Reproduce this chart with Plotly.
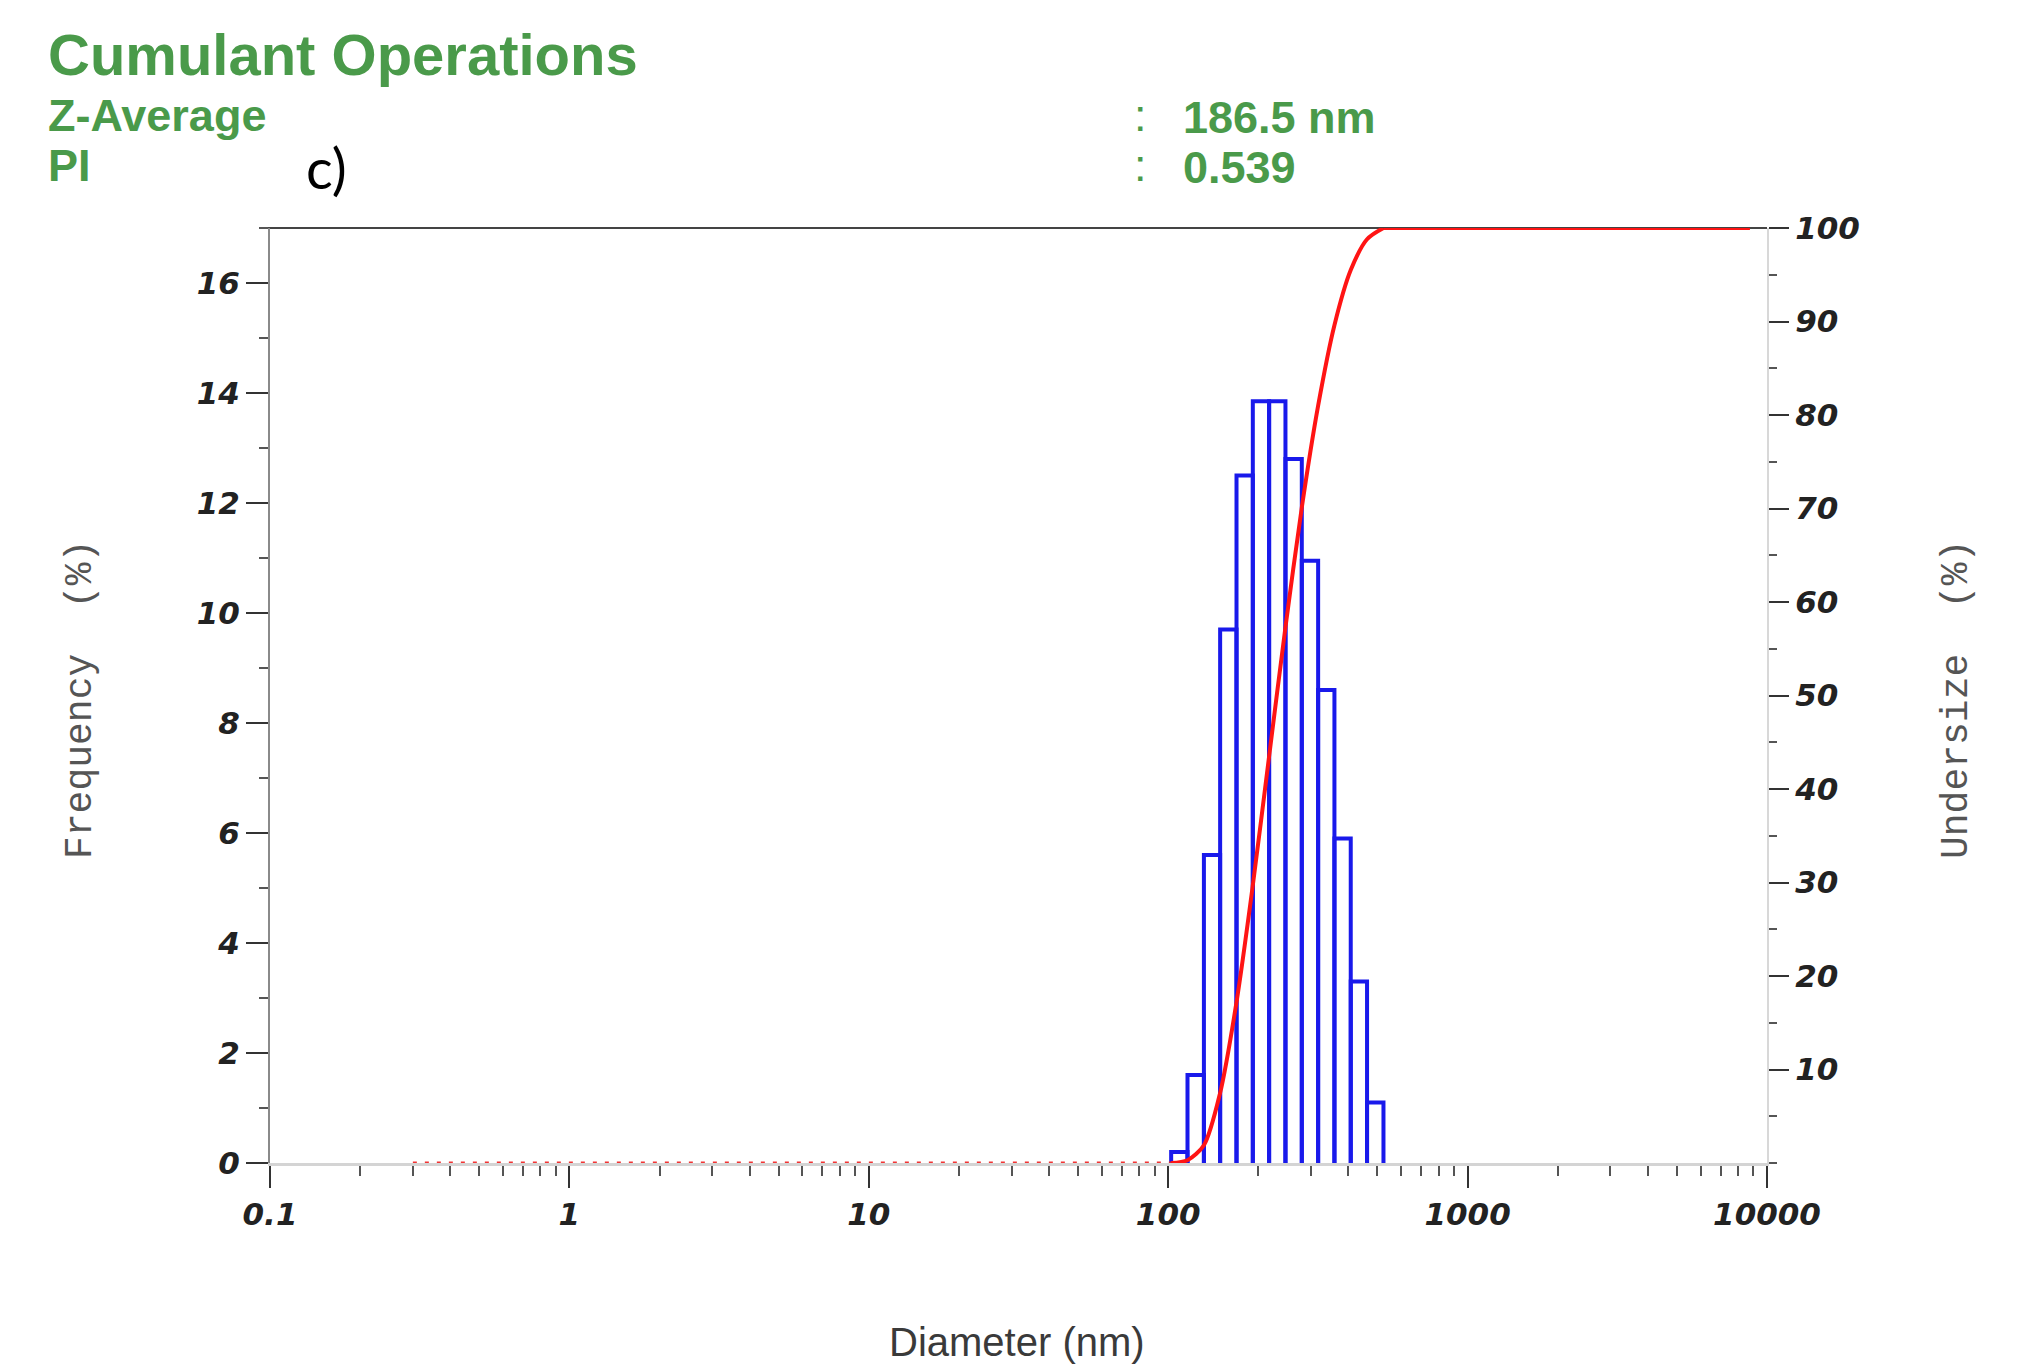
import plotly.graph_objects as go

# ---------------- data ----------------
bin_edges_nm = [102.3, 116.0, 131.6, 149.1, 169.1, 191.7, 217.3, 246.4,
                279.4, 316.8, 359.1, 407.1, 461.5, 523.6]
frequency_pct = [0.2, 1.6, 5.6, 9.7, 12.5, 13.85, 13.85, 12.8, 10.95,
                 8.6, 5.9, 3.3, 1.1]

undersize_nm = [102.3, 116.0, 131.6, 149.1, 169.1, 191.7, 217.3, 246.4,
                279.4, 316.8, 359.1, 407.1, 461.5, 523.6]
undersize_pct = [0, 0.3, 1.9, 7.5, 17.2, 29.7, 43.5, 57.3, 70.1, 81.0,
                 89.6, 95.5, 98.8, 100]

zero_tail_nm = [0.3, 102.3]
zero_tail_pct = [0, 0]
full_tail_nm = [523.6, 8770]
full_tail_pct = [100, 100]

x_tickvals = [0.1, 1, 10, 100, 1000, 10000]
x_ticktext = ["0.1", "1", "10", "100", "1000", "10000"]
y_left_ticks = [0, 2, 4, 6, 8, 10, 12, 14, 16]
y_right_ticks = [10, 20, 30, 40, 50, 60, 70, 80, 90, 100]

z_average = "186.5 nm"
pdi = "0.539"

# ---------------- figure ----------------
W, H = 2020, 1371
L, R, T, B = 270, 253, 228, 208
PW, PH = W - L - R, H - T - B


def px(X):
    return (X - L) / PW


def py(Y):
    return (H - B - Y) / PH


# bar outlines
bx, by = [], []
for i, h in enumerate(frequency_pct):
    l, r = bin_edges_nm[i], bin_edges_nm[i + 1]
    bx += [l, l, r, r, None]
    by += [0, h, h, 0, None]

fig = go.Figure()
fig.add_trace(go.Scatter(x=bx, y=by, mode="lines",
                         line=dict(color="rgb(25,25,235)", width=4),
                         hoverinfo="skip", showlegend=False))

red = "rgb(255,20,20)"
fig.add_trace(go.Scatter(x=zero_tail_nm, y=zero_tail_pct, yaxis="y2",
                         mode="lines", line=dict(color="rgba(240,30,30,0.9)",
                                                 width=3, dash="4px,8px"),
                         cliponaxis=False, showlegend=False))
fig.add_trace(go.Scatter(x=undersize_nm, y=undersize_pct, yaxis="y2",
                         mode="lines", line=dict(color=red, width=4,
                                                 shape="spline", smoothing=0.8),
                         cliponaxis=False, showlegend=False))
fig.add_trace(go.Scatter(x=full_tail_nm, y=full_tail_pct, yaxis="y2",
                         mode="lines", line=dict(color=red, width=4),
                         cliponaxis=False, showlegend=False))

tickfont = dict(family="DejaVu Sans", size=31, color="#222",
                weight="bold", style="italic")

fig.update_layout(
    width=W, height=H,
    margin=dict(l=L, r=R, t=T, b=B, pad=0),
    paper_bgcolor="white", plot_bgcolor="white",
    showlegend=False,
    xaxis=dict(type="log", range=[-1, 4], tickmode="array",
               tickvals=x_tickvals, ticktext=x_ticktext,
               showgrid=False, zeroline=False,
               showline=True, linecolor="#d4d4d4", linewidth=3,
               ticks="outside", ticklen=22, tickwidth=2, tickcolor="#333",
               ticklabelstandoff=0,
               minor=dict(ticks="outside", ticklen=10, tickwidth=2,
                          tickcolor="#555", dtick="D1", showgrid=False),
               tickfont=tickfont),
    yaxis=dict(range=[0, 17], tickmode="array", tickvals=y_left_ticks,
               showgrid=False, zeroline=False,
               showline=True, linecolor="#8a8a8a", linewidth=2,
               ticks="outside", ticklen=22, tickwidth=2, tickcolor="#333",
               minor=dict(ticks="outside", ticklen=9, tickwidth=2,
                          tickcolor="#555", dtick=1, showgrid=False),
               tickfont=tickfont),
    yaxis2=dict(range=[0, 100], overlaying="y", side="right",
                tickmode="array", tickvals=y_right_ticks,
                showgrid=False, zeroline=False,
                showline=True, linecolor="#d8d8d8", linewidth=2,
                ticks="outside", ticklen=20, tickwidth=2, tickcolor="#333",
                minor=dict(ticks="outside", ticklen=8, tickwidth=2,
                           tickcolor="#555", dtick=5, showgrid=False),
                tickfont=tickfont),
)

# top frame line
fig.add_shape(type="line", xref="paper", yref="paper",
              x0=px(262), x1=1, y0=1, y1=1,
              line=dict(color="#444", width=2), layer="below")

green = "#4a9a4a"
hdr = "Liberation Sans"
ann = [
    dict(text="<b>Cumulant Operations</b>", x=px(46), y=py(54), size=58,
         color=green, xanchor="left", family=hdr),
    dict(text="<b>Z-Average</b>", x=px(46), y=py(116), size=45,
         color=green, xanchor="left", family=hdr),
    dict(text="<b>PI</b>", x=px(46), y=py(166), size=45,
         color=green, xanchor="left", family=hdr),
    dict(text=":", x=px(1140), y=py(116), size=45, color=green,
         xanchor="center", family=hdr),
    dict(text=":", x=px(1140), y=py(166), size=45, color=green,
         xanchor="center", family=hdr),
    dict(text="<b>" + z_average + "</b>", x=px(1181), y=py(117), size=45,
         color=green, xanchor="left", family=hdr),
    dict(text="<b>" + pdi + "</b>", x=px(1181), y=py(167), size=45,
         color=green, xanchor="left", family=hdr),
    dict(text="c)", x=px(304), y=py(168), size=56, color="black",
         xanchor="left", family="Lato"),
    dict(text="Diameter (nm)", x=px(1017), y=py(1342), size=40,
         color="#3a3a3a", xanchor="center", family="Liberation Sans"),
]
for a in ann:
    fig.add_annotation(text=a["text"], x=a["x"], y=a["y"], xref="paper",
                       yref="paper", xanchor=a["xanchor"], yanchor="middle",
                       showarrow=False,
                       font=dict(family=a["family"], size=a["size"],
                                 color=a["color"]))

for txt, X in [("Frequency\u00a0\u00a0(%)", 80), ("Undersize\u00a0\u00a0(%)", 1956)]:
    fig.add_annotation(text=txt, x=px(X), y=py(700), xref="paper",
                       yref="paper", xanchor="center", yanchor="middle",
                       textangle=-90, showarrow=False,
                       font=dict(family="Liberation Mono", size=38,
                                 color="#555"))

fig.write_html("out.html", config={"displayModeBar": False},
               post_script="document.body.style.margin='0';"
                           "document.body.style.padding='0';"
                           "document.body.style.overflow='hidden';")
